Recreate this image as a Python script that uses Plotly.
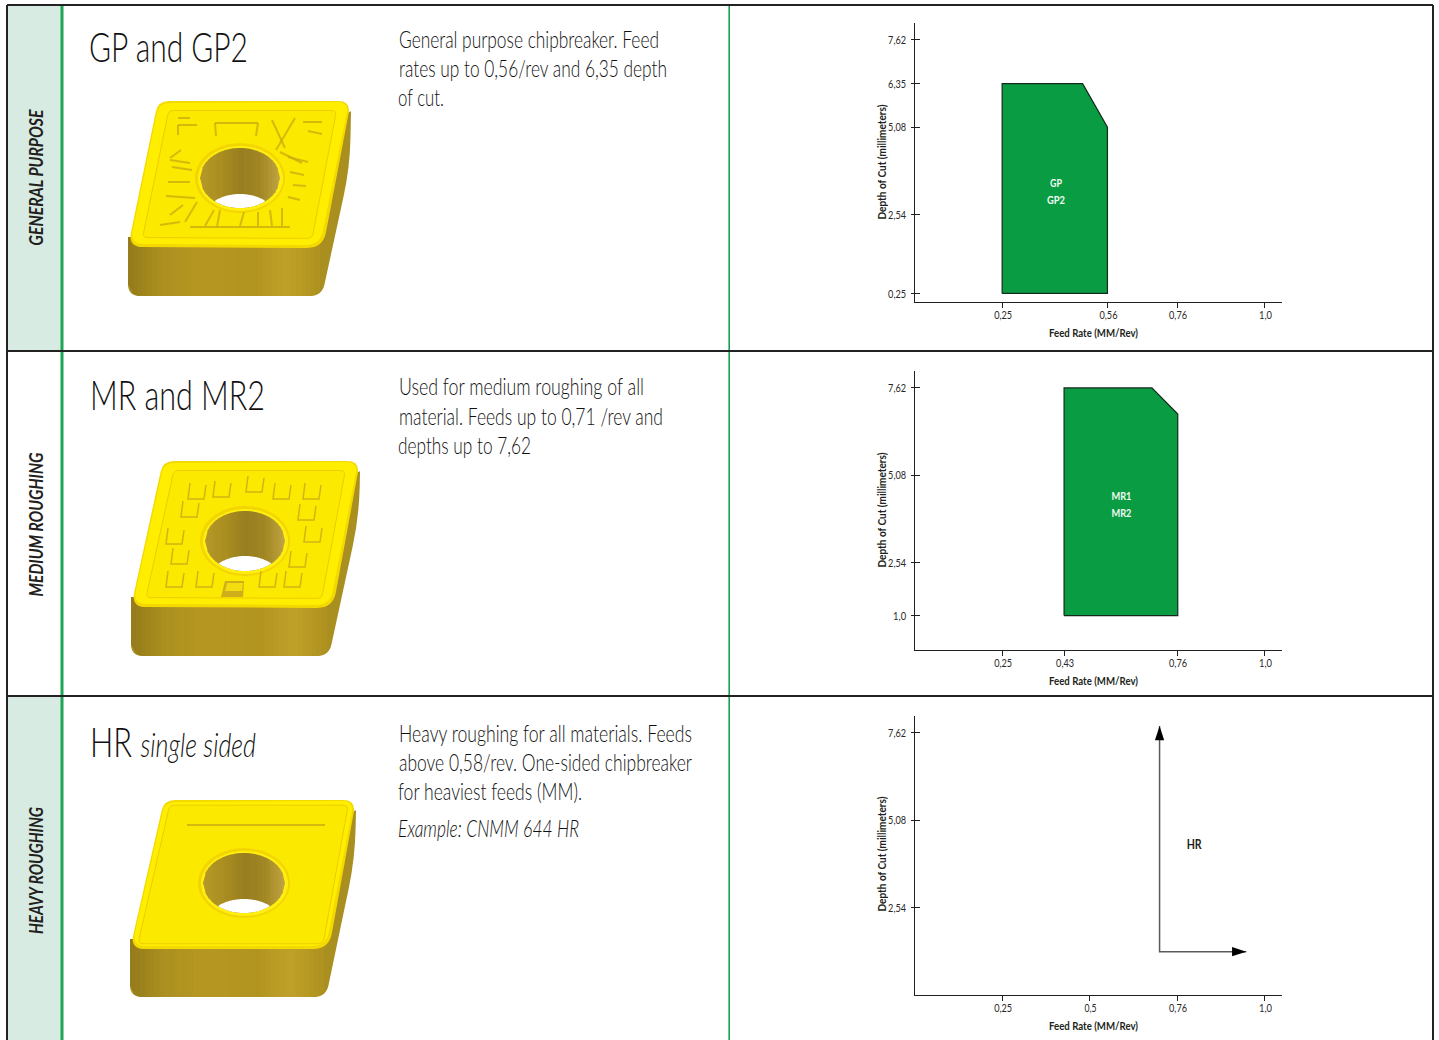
import json
import numpy as np
import plotly.graph_objects as go

W, H = 1439, 1040
FONT = "Lato, Open Sans, sans-serif"
INK = "#231f20"
GREEN = "#0a9c42"
YEL = "#ffee00"

# ---------- chart data ----------
depth_ticks_gp = [0.25, 2.54, 5.08, 6.35, 7.62]
depth_labels_gp = ["0,25", "2,54", "5,08", "6,35", "7,62"]
feed_ticks_gp = [0.25, 0.551, 0.75, 1.0]
feed_labels_gp = ["0,25", "0,56", "0,76", "1,0"]
gp_feed = [0.25, 0.25, 0.48, 0.551, 0.551, 0.25]
gp_depth = [0.25, 6.35, 6.35, 5.08, 0.25, 0.25]

depth_ticks_mr = [1.0, 2.54, 5.08, 7.62]
depth_labels_mr = ["1,0", "2,54", "5,08", "7,62"]
feed_ticks_mr = [0.25, 0.427, 0.75, 1.0]
feed_labels_mr = ["0,25", "0,43", "0,76", "1,0"]
mr_feed = [0.427, 0.427, 0.678, 0.752, 0.752, 0.427]
mr_depth = [1.0, 7.62, 7.62, 6.86, 1.0, 1.0]

depth_ticks_hr = [2.54, 5.08, 7.62]
depth_labels_hr = ["2,54", "5,08", "7,62"]
feed_ticks_hr = [0.25, 0.5, 0.75, 1.0]
feed_labels_hr = ["0,25", "0,5", "0,76", "1,0"]
hr_arrow_feed = [0.70, 0.70, 0.948]
hr_arrow_depth = [7.82, 1.26, 1.26]

region_labels_gp = ["GP", "GP2"]
region_labels_mr = ["MR1", "MR2"]
region_label_hr = "HR"
xtitle = "Feed Rate (MM/Rev)"
ytitle = "Depth of Cut (millimeters)"

# ---------- table text ----------
categories = ["GENERAL PURPOSE", "MEDIUM ROUGHING", "HEAVY ROUGHING"]
titles = ["GP and GP2", "MR and MR2", "HR"]
title_suffix = "single sided"
desc_gp = ["General purpose chipbreaker. Feed", "rates up to 0,56/rev and 6,35 depth", "of cut."]
desc_mr = ["Used for medium roughing of all", "material. Feeds up to 0,71 /rev and", "depths up to 7,62"]
desc_hr = ["Heavy roughing for all materials. Feeds", "above 0,58/rev. One-sided chipbreaker", "for heaviest feeds (MM)."]
example_hr = "Example: CNMM 644 HR"

# rendered text widths measured on the reference (condensed type)
TEXT_WIDTHS = {
    "GP and GP2": 159, "MR and MR2": 175, "HR single sided": 166,
    desc_gp[0]: 260, desc_gp[1]: 268, desc_gp[2]: 46,
    desc_mr[0]: 245, desc_mr[1]: 264, desc_mr[2]: 133,
    desc_hr[0]: 293, desc_hr[1]: 293, desc_hr[2]: 184, example_hr: 181,
    categories[0]: 136, categories[1]: 144, categories[2]: 127,
    xtitle: 89, ytitle: 115,
    "GP": 12, "GP2": 18, "MR1": 20, "MR2": 20, "HR": 15,
    "0,25": 18, "0,56": 18, "0,76": 18, "0,43": 18, "1,0": 13, "0,5": 12,
    "2,54": 18, "5,08": 18, "6,35": 18, "7,62": 18,
}

# ---------- layout geometry ----------
AX_L, AX_R = 914.7, 1282.0
AX_BOTTOMS = [302.0, 650.0, 995.0]
AX_HEIGHT = 279.3
XR = [0, 1.05]
YR = [0, 8.12]

fig = go.Figure()
shapes, annos = [], []


def pg(d, fill, line=None, lw=0, op=None):
    s = dict(type="path", xref="x4", yref="y4", path=d, fillcolor=fill,
             line=dict(color=line or "rgba(0,0,0,0)", width=lw))
    if op is not None:
        s["opacity"] = op
    shapes.append(s)


def stroke(d, color, lw=1.0, op=None):
    s = dict(type="path", xref="x4", yref="y4", path=d, line=dict(color=color, width=lw))
    if op is not None:
        s["opacity"] = op
    shapes.append(s)


def rect(x0, y0, x1, y1, fill):
    shapes.append(dict(type="rect", xref="x4", yref="y4", x0=x0, x1=x1, y0=y0, y1=y1,
                       fillcolor=fill, line=dict(width=0)))


def seg(x0, y0, x1, y1, color, lw, op=None):
    s = dict(type="line", xref="x4", yref="y4", x0=x0, x1=x1, y0=y0, y1=y1,
             line=dict(color=color, width=lw))
    if op is not None:
        s["opacity"] = op
    shapes.append(s)


def rounded(pts, rs):
    n = len(pts)
    if not isinstance(rs, (list, tuple)):
        rs = [rs] * n
    d = ""
    for i in range(n):
        p = np.array(pts[i], float)
        a = np.array(pts[i - 1], float)
        b = np.array(pts[(i + 1) % n], float)
        r = rs[i]
        u = p + (a - p) / np.linalg.norm(a - p) * r
        v = p + (b - p) / np.linalg.norm(b - p) * r
        d += ("M" if i == 0 else "L") + f"{u[0]:.1f},{u[1]:.1f} Q{p[0]:.1f},{p[1]:.1f} {v[0]:.1f},{v[1]:.1f} "
    return d + "Z"


def poly(pts):
    return "M" + " L".join(f"{x:.1f},{y:.1f}" for x, y in pts) + " Z"


def ell(cx, cy, rx, ry, n=60):
    t = np.linspace(0, 2 * np.pi, n, endpoint=False)
    return poly(list(zip(cx + rx * np.cos(t), cy + ry * np.sin(t))))


def lerp_color(stops, t):
    stops = np.array(stops, float)
    p = t * (len(stops) - 1)
    i = min(int(p), len(stops) - 2)
    c = stops[i] + (stops[i + 1] - stops[i]) * (p - i)
    return f"rgb({int(c[0])},{int(c[1])},{int(c[2])})"


def hole(cx, cy, rx, ry, drop):
    pg(ell(cx, cy, rx + 5, ry + 5), "#f3d600")
    pg(ell(cx + 0.5, cy + 0.5, rx + 2.5, ry + 2.5), "#ffef10")
    stops = [(180, 152, 40), (170, 142, 34), (152, 126, 32), (160, 134, 36), (192, 162, 64)]
    cols = 30
    xs = np.linspace(cx - rx, cx + rx, cols + 1)
    half = lambda x: np.sqrt(np.clip(1 - ((x - cx) / rx) ** 2, 0, 1)) * ry
    for i in range(cols):
        a, b = xs[i], xs[i + 1]
        b2 = min(b + 0.6, cx + rx)
        pg(poly([(a, cy - half(a)), (b2, cy - half(b2)), (b2, cy + half(b2)), (a, cy + half(a))]),
           lerp_color(stops, i / (cols - 1)))
    # opening seen through the hole: intersection of the two rims
    t = np.linspace(-1, 1, 80)
    xx = cx + t * rx
    top_hole = cy + ry * np.sqrt(1 - t ** 2)
    low = cy + drop - ry * np.sqrt(1 - t ** 2)
    mask = low < top_hole
    ptsu = list(zip(xx[mask], low[mask]))
    ptsl = list(zip(xx[mask][::-1], top_hole[mask][::-1]))
    pg(poly(ptsu + ptsl), "#ffffff")


def insert(top, side_bottom, right_low, br_x, hole_args, inner=0.87):
    TL, TR, BR, BL = [np.array(p, float) for p in top]
    sb = side_bottom
    # side body
    pg(rounded([BL - (0, 8), TR + (0, 10), np.array(right_low, float), (br_x, sb), (BL[0], sb)],
               [1, 1, 30, 12, 12]), "#a98e20")
    # soft shading on the front face
    x0, x1 = BL[0], br_x - 2
    stops = [(150, 124, 28), (172, 144, 32), (180, 150, 32), (180, 150, 32), (178, 148, 32),
             (192, 162, 42), (176, 146, 32)]
    n = 40
    xs = np.linspace(x0, x1, n + 1)
    r = 12.0

    def low(x):
        dl = x0 + r - x
        dr = x - (x1 - r + 2)
        if dl > 0:
            return sb - r + np.sqrt(max(r * r - dl * dl, 0))
        if dr > 0:
            return sb - r + np.sqrt(max(r * r - dr * dr, 0))
        return sb

    for i in range(n):
        a, b = xs[i], min(xs[i + 1] + 0.6, x1)
        pg(poly([(a, BL[1] - 10), (b, BL[1] - 10), (b, low(b)), (a, low(a))]), lerp_color(stops, i / (n - 1)))
    # top face
    pg(rounded([TL, TR, BR, BL], [11, 13, 16, 15]), "#f4d900")
    c = (TL + TR + BR + BL) / 4
    pg(rounded([TL + (1, 2), TR + (-2, 1), BR + (-3, -3), BL + (2, -3)], [10, 12, 14, 14]), YEL)
    q = [c + (p - c) * inner for p in (TL, TR, BR, BL)]
    pg(rounded(q, 5), "#fbe900", "#edcc00", 1)
    hole(*hole_args)


# ---------- table frame ----------
rect(8, 6, 61, 351, "#d8ebe3")
rect(8, 697, 61, 1040, "#d8ebe3")
seg(62, 5, 62, 1040, "#1fa557", 3)
seg(729.2, 5, 729.2, 1040, "#17a04f", 1.6)
seg(7, 5, 1433, 5, "#222222", 2)
seg(7, 351, 1433, 351, "#222222", 2)
seg(7, 696, 1433, 696, "#222222", 2)
seg(7, 5, 7, 1040, "#222222", 2)
seg(1433, 5, 1433, 1040, "#222222", 2)

# ---------- insert illustrations ----------
insert([(158, 101), (351, 101), (323, 248), (128, 247)], 296, (350, 167), 322, (240, 178, 40, 30, 46))
insert([(163, 461), (360, 461), (333, 608), (131, 607)], 656, (359, 517), 329, (245, 541, 40, 30, 45))
insert([(164, 800), (356, 800), (329, 949), (130, 949)], 997, (355, 858), 326, (244, 883, 41, 30, 46), inner=0.93)

# GP chipbreaker relief
gp_marks = [
    (178, 125, 197, 125), (178, 125, 178, 135), (190, 118, 178, 118), (215, 123, 258, 123), (215, 123, 216, 136),
    (258, 123, 256, 136), (272, 120, 285, 148), (295, 118, 276, 150), (303, 122, 322, 122), (308, 131, 322, 134),
    (302, 163, 280, 152), (308, 162, 288, 157), (290, 172, 304, 175), (293, 185, 306, 186), (288, 197, 300, 200),
    (181, 150, 170, 158), (172, 167, 192, 170), (168, 182, 190, 182), (166, 196, 195, 198), (170, 160, 190, 163),
    (170, 215, 183, 205), (185, 222, 197, 202), (205, 226, 214, 210), (217, 227, 220, 210), (240, 226, 244, 212),
    (258, 226, 258, 212), (272, 226, 270, 210), (282, 226, 282, 208), (160, 225, 180, 222), (190, 227, 290, 227),
]
for a, b, c, d in gp_marks:
    seg(a, b, c, d, "#c9a612", 2, op=0.7)

# MR chipbreaker relief
mr_marks = [
    (197, 492), (222, 490), (255, 485), (282, 492), (312, 492), (190, 510), (307, 513),
    (175, 537), (313, 535), (180, 557), (298, 560), (175, 580), (205, 580), (268, 580), (293, 580),
]
for x, y in mr_marks:
    s = 9
    stroke(f"M{x-s+2},{y-s} L{x-s},{y+s-2} L{x+s-2},{y+s-2} L{x+s},{y-s+2}", "#c9a91a", 1.5, op=0.8)
pg(poly([(225, 581), (244, 581), (243, 597), (221, 597)]), "#cfae1c")
pg(poly([(227, 583), (243, 583), (242, 591), (225, 591)]), "#f3dc10")

# HR flat ridge
seg(187, 825, 325, 825, "#c8a816", 1.3)

# ---------- text helper ----------


def txt(x, y, s, size, color="#111111", bold=False, italic=False, angle=0, weight=None, width_key=None):
    annos.append(dict(xref="paper", yref="paper", x=x / W, y=1 - y / H, text=s, showarrow=False,
                      xanchor="center", yanchor="middle", textangle=angle, borderpad=0,
                      width=TEXT_WIDTHS[width_key or s] + 2,
                      font=dict(family=FONT, size=size, color=color,
                                weight=weight or (700 if bold else 400),
                                style="italic" if italic else "normal")))


for cat, cy in zip(categories, [178, 525, 870.5]):
    txt(35.5, cy, cat, 18, INK, bold=True, italic=True, angle=-90)

txt(168.5, 46, titles[0], 42, weight=300)
txt(177, 394, titles[1], 42, weight=300)
txt(173, 741, f'{titles[2]} <span style="font-size:34px"><i>{title_suffix}</i></span>', 42, weight=300,
    width_key="HR single sided")

for lines, ys in ((desc_gp, [39, 68, 97]), (desc_mr, [386, 416, 445]), (desc_hr, [733, 762, 791])):
    for s, y in zip(lines, ys):
        txt(398.5 + TEXT_WIDTHS[s] / 2, y, s, 23, weight=300)
txt(398.5 + TEXT_WIDTHS[example_hr] / 2, 828, example_hr, 23, italic=True, weight=300)

for xc_y, yc in zip([332.5, 680.5, 1025.5], [162, 510, 854]):
    txt(1093.5, xc_y, xtitle, 12, INK, bold=True)
    txt(880.5, yc, ytitle, 12, INK, bold=True, angle=-90)

# ---------- charts ----------
AXIS = dict(showgrid=False, zeroline=False, showline=True, linecolor=INK, linewidth=1.4,
            tickcolor=INK, tickwidth=1.1, fixedrange=True,
            tickfont=dict(family=FONT, size=12, color="#2a2829"))


def dom(bottom):
    return [1 - bottom / H, 1 - (bottom - AX_HEIGHT) / H]


layout_axes = {}
chart_defs = [
    ("", feed_ticks_gp, feed_labels_gp, depth_ticks_gp, depth_labels_gp, AX_BOTTOMS[0], "5"),
    ("2", feed_ticks_mr, feed_labels_mr, depth_ticks_mr, depth_labels_mr, AX_BOTTOMS[1], "6"),
    ("3", feed_ticks_hr, feed_labels_hr, depth_ticks_hr, depth_labels_hr, AX_BOTTOMS[2], "7"),
]
for sfx, xt, xl, yt, yl, bottom, ov in chart_defs:
    xname, yname = "x" + sfx, "y" + sfx
    layout_axes["xaxis" + sfx] = dict(AXIS, domain=[AX_L / W, AX_R / W], range=XR, anchor=yname,
                                      tickmode="array", tickvals=xt, ticktext=xl,
                                      ticks="outside", ticklen=5, ticklabelstandoff=-4, ticklabelshift=1)
    layout_axes["yaxis" + sfx] = dict(AXIS, domain=dom(bottom), range=YR, anchor=xname,
                                      tickmode="array", tickvals=yt, ticktext=yl,
                                      ticks="outside", ticklen=3, ticklabelstandoff=2)
    layout_axes["yaxis" + ov] = dict(domain=dom(bottom), range=YR, anchor=xname, overlaying=yname,
                                     tickmode="array", tickvals=yt, showticklabels=False,
                                     ticks="inside", ticklen=5, tickcolor=INK, tickwidth=1.1,
                                     showgrid=False, zeroline=False, showline=False, fixedrange=True)
    fig.add_trace(go.Scatter(x=[None], y=[None], xaxis=xname, yaxis="y" + ov, mode="lines",
                             showlegend=False, hoverinfo="skip"))

for feed, depth, xa, ya in ((gp_feed, gp_depth, "x", "y"), (mr_feed, mr_depth, "x2", "y2")):
    fig.add_trace(go.Scatter(x=feed, y=depth, xaxis=xa, yaxis=ya, mode="lines", fill="toself",
                             fillcolor=GREEN, line=dict(color="#14291c", width=1.2),
                             showlegend=False, hoverinfo="skip"))

label_font = dict(family=FONT, size=12, color="#f2fbf4", weight=700)
fig.add_trace(go.Scatter(x=[0.404, 0.404], y=[3.43, 2.94], text=region_labels_gp, xaxis="x", yaxis="y",
                         mode="text", textfont=label_font, showlegend=False, hoverinfo="skip"))
fig.add_trace(go.Scatter(x=[0.591, 0.591], y=[4.45, 3.95], text=region_labels_mr, xaxis="x2", yaxis="y2",
                         mode="text", textfont=label_font, showlegend=False, hoverinfo="skip"))

# HR arrows
fig.add_trace(go.Scatter(x=hr_arrow_feed, y=hr_arrow_depth, xaxis="x3", yaxis="y3", mode="lines",
                         line=dict(color="#5a5a5a", width=1.5), showlegend=False, hoverinfo="skip"))
fig.add_trace(go.Scatter(x=[hr_arrow_feed[0], hr_arrow_feed[2]], y=[hr_arrow_depth[0], hr_arrow_depth[2]],
                         xaxis="x3", yaxis="y3", mode="markers",
                         marker=dict(symbol="arrow", size=15, color="#000000", angle=[0, 90],
                                     line=dict(width=0)),
                         showlegend=False, hoverinfo="skip"))
fig.add_trace(go.Scatter(x=[0.799], y=[4.36], text=[region_label_hr], xaxis="x3", yaxis="y3", mode="text",
                         textfont=dict(family=FONT, size=14, color=INK, weight=700),
                         showlegend=False, hoverinfo="skip"))

# full-page axis used for the table frame and illustrations
layout_axes["xaxis4"] = dict(domain=[0, 1], range=[0, W], visible=False, anchor="y4", fixedrange=True)
layout_axes["yaxis4"] = dict(domain=[0, 1], range=[H, 0], visible=False, anchor="x4", fixedrange=True)
fig.add_trace(go.Scatter(x=[None], y=[None], xaxis="x4", yaxis="y4", mode="lines",
                         showlegend=False, hoverinfo="skip"))

fig.update_layout(width=W, height=H, margin=dict(l=0, r=0, t=0, b=0, pad=0), autosize=False,
                  paper_bgcolor="#ffffff", plot_bgcolor="rgba(0,0,0,0)", showlegend=False,
                  shapes=shapes, annotations=annos, **layout_axes)

# condense the type to the measured widths of the reference's narrow face
post = """
document.body.style.margin='0';document.body.style.overflow='hidden';
(function(){
var w=%s;
document.querySelectorAll('.js-plotly-plot svg text').forEach(function(t){
  var s=t.textContent.replace(/\\s+/g,' ').trim(), target=w[s];
  if(!target) return;
  t.setAttribute('textLength',target);
  t.setAttribute('lengthAdjust','spacingAndGlyphs');
});
})();
""" % json.dumps(TEXT_WIDTHS)

fig.write_html("out.html", config={"displayModeBar": False, "responsive": False}, post_script=post)
